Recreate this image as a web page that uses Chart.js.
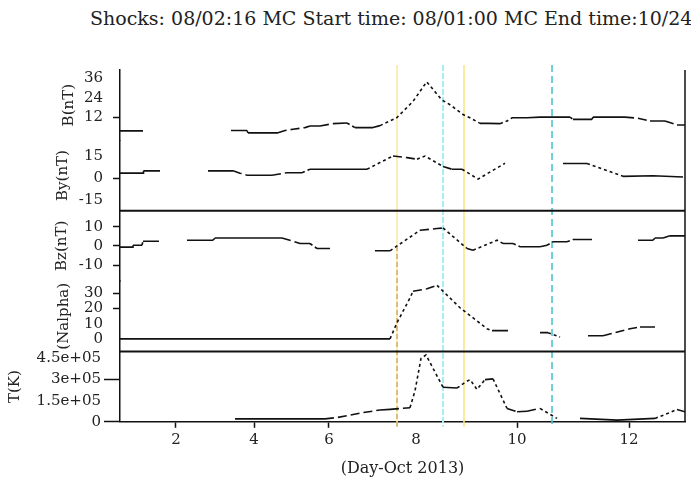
<!DOCTYPE html>
<html>
<head>
<meta charset="utf-8">
<script src="https://cdn.jsdelivr.net/npm/chart.js@4.4.1/dist/chart.umd.min.js"></script>
<style>
  body { margin: 0; background: #fff; }
  #wrap { position: relative; width: 691px; height: 483px; overflow: hidden; }
  #title {
    position: absolute; left: 90px; top: 9px;
    font: 19px/19px "DejaVu Serif", serif; color: #222; white-space: nowrap;
  }
  #chart { position: absolute; left: 0; top: 0; }
</style>
</head>
<body>
<div id="wrap">
  <div id="title">Shocks: 08/02:16 MC Start time: 08/01:00 MC End time:10/24</div>
  <canvas id="chart" width="691" height="483"></canvas>
</div>
<script>
// ------------------------------------------
// Data (day of Oct 2013, value); null = data gap
// ------------------------------------------
const dayTicks = [2, 4, 6, 8, 10, 12];

const bDay = [0.564, 1.154, null, 3.410, 3.821, 3.846, 4.640, 4.827, 5.040, 5.360, 5.493, 5.760, 6.092, 6.414, 6.598, 7.011, 7.172, 7.556, 7.931, 8.212, 8.509, 8.673, 8.931, 9.069, 9.267, 9.426, 9.663, 9.802, 9.901, 10.179, 10.411, 10.946, 11.000, 11.339, 11.357, 11.929, 12.143, 12.375, 12.643, 12.857, 13.0];
const bVal = [3.8, 3.8, null, 4.0, 4.0, 2.6, 2.6, 4.0, 4.8, 5.8, 6.8, 6.8, 8.2, 8.6, 5.8, 5.8, 7.0, 11.8, 21.8, 33.8, 22.8, 19.8, 13.8, 11.8, 8.4, 8.4, 8.2, 9.8, 11.8, 11.8, 12.2, 12.2, 10.8, 10.8, 12.2, 12.2, 11.6, 9.8, 9.8, 7.4, 7.4];

const byDay = [0.564, 1.154, 1.167, 1.590, null, 2.821, 3.462, 3.641, 3.821, 4.480, 4.880, 5.280, 5.493, 6.874, 7.172, 7.471, 7.793, 8.020, 8.178, 8.535, 8.713, 8.911, 9.010, 9.228, 9.762, null, 10.821, 11.250, 11.893, 12.429, 12.964];
const byVal = [3.4, 3.4, 5.0, 5.0, null, 5.0, 5.0, 3.4, 2.0, 2.0, 3.7, 3.7, 6.1, 6.1, 10.7, 15.2, 14.1, 13.0, 15.2, 8.0, 6.1, 6.1, 4.0, -0.7, 10.2, null, 10.0, 10.0, 1.2, 1.6, 0.7];

const bzDay = [0.564, 0.872, 0.897, 1.128, 1.154, 1.564, null, 2.282, 2.949, 3.000, 4.747, 5.040, 5.227, 5.493, 5.680, 6.023, null, 7.057, 7.402, 8.079, 8.416, 8.535, 9.010, 9.129, 9.604, 9.723, 9.921, 10.054, 10.411, 10.536, 10.643, 10.893, 11.000, 11.339, null, 12.161, 12.429, 12.464, 12.607, 12.732, 13.0];
const bzVal = [-0.6, -0.6, 0.4, 0.4, 2.5, 2.5, null, 3.0, 3.0, 4.2, 4.2, 2.5, 1.3, 1.3, -1.3, -1.3, null, -2.5, -2.5, 8.2, 9.1, 9.4, -1.3, -2.2, 3.0, 1.3, 1.3, -0.4, -0.4, 0.4, 2.2, 2.2, 3.4, 3.4, null, 3.0, 3.0, 4.2, 4.2, 5.3, 5.3];

const nDay = [0.564, 7.402, 7.563, 7.862, 7.931, 8.218, 8.416, 8.871, 9.406, 9.505, 9.822, null, 10.411, 10.554, 10.768, null, 11.268, 11.536, 12.018, 12.196, 12.464];
const nVal = [0, 0, 10.6, 27, 31.4, 33, 35.3, 20.5, 6.7, 5.4, 5.4, null, 4.1, 4.1, 1.3, null, 2.0, 2.0, 6.7, 7.8, 7.8];

const tDay = [3.513, 5.627, 5.893, 6.184, 6.483, 6.759, 7.172, 7.402, 7.862, 7.977, 8.099, 8.198, 8.535, 8.812, 8.970, 9.069, 9.208, 9.366, 9.525, 9.802, 10.000, 10.179, 10.411, 10.714, null, 11.125, 11.786, 12.464, 12.696, 12.857, 13.0];
const tVal = [2.1e4, 2.1e4, 2.1e4, 3.0e4, 4.8e4, 6.4e4, 8.4e4, 8.8e4, 1.0e5, 2.2e5, 4.5e5, 4.75e5, 2.45e5, 2.4e5, 2.8e5, 3.0e5, 2.3e5, 3.0e5, 3.05e5, 9.5e4, 7.1e4, 7.5e4, 9.5e4, 2.4e4, null, 2.4e4, 1.2e4, 2.4e4, 6.0e4, 8.8e4, 7.1e4];

// y tick values and their printed labels, per panel
const bTicks = [12, 24, 36];
const byTicks = [-15, 0, 15];
const bzTicks = [-10, 0, 10];
const nTicks = [0, 10, 20, 30];
const tTicks = [0, 1.5e5, 3e5, 4.5e5];
const tTickLabels = ['0', '1.5e+05', '3e+05', '4.5e+05'];

// ticks that carry a tick mark (the rest are label only)
const dayMarked = [2, 4, 6, 10, 12];
const bMarked = [12];
const byMarked = [0];
const bzMarked = [-10, 0, 10];
const nMarked = [20, 30];
const tMarked = [0, 3e5];

// shock / MC boundary times
const markerDays = [7.563, 8.535, 8.950, 10.625];

// -----------------------------
// Time axis: uneven day spacing, piecewise linear between knots
// -----------------------------
const knotDays = [0.564, 2, 4, 6, 8, 10, 12, 13];
const knotFrac = [0, 0.0991, 0.2372, 0.3699, 0.5239, 0.7027, 0.9009, 1];

function interp(v, xs, ys) {
    let i = 1;
    while (i < xs.length - 1 && v > xs[i]) i++;
    const f = (v - xs[i - 1]) / (xs[i] - xs[i - 1]);
    return ys[i - 1] + f * (ys[i] - ys[i - 1]);
}

class KnotScale extends Chart.LinearScale {
  static id = 'knotted';
  static defaults = Chart.LinearScale.defaults;

  getPixelForValue(value) {
    if (value === null || isNaN(value)) return NaN;
    return this.getPixelForDecimal(interp(value, knotDays, knotFrac));
  }

  getValueForPixel(pixel) {
    return interp(this.getDecimalForPixel(pixel), knotFrac, knotDays);
  }
}
Chart.register(KnotScale);

// -----------------------------
// Helpers
// -----------------------------
const FONT = '"DejaVu Serif", serif';
const AXIS_WIDTH = 114;   // shared width of the stacked left axes
const INK = '#111';

function points(days, vals) {
    let last = days[0];
    return days.map((d, i) => {
        if (d !== null) last = d;
        return { x: last, y: vals[i] };
    });
}

// flat runs solid, sloped runs broken up like the sampled record
function dashFor(ctx) {
    const dx = Math.abs(ctx.p1.x - ctx.p0.x) || 1;
    const slope = Math.abs(ctx.p1.y - ctx.p0.y) / dx;
    if (slope < 0.06) return undefined;
    return slope < 0.35 ? [9, 4] : [3, 3];
}

function markColor(marked) {
    return ctx => (ctx.tick && marked.includes(ctx.tick.value)) ? INK : 'rgba(0,0,0,0)';
}

function series(days, vals, axis) {
    return {
        data: points(days, vals),
        yAxisID: axis,
        borderColor: INK,
        borderWidth: 1.6,
        pointRadius: 0,
        spanGaps: false,
        tension: 0,
        segment: { borderDash: dashFor }
    };
}

function panelAxis(title, min, max, ticks, labels, marked, titlePad, tickLen, tickPad) {
    return {
        type: 'linear',
        position: 'left',
        stack: 'panels',
        stackWeight: 1,
        min: min,
        max: max,
        afterBuildTicks: scale => { scale.ticks = ticks.map(v => ({ value: v })); },
        // five stacked axes would otherwise be squeezed to a fifth of half the width
        afterFit: scale => { scale.width = AXIS_WIDTH; },
        ticks: {
            autoSkip: false,
            color: '#222',
            padding: tickPad,
            font: { family: FONT, size: 15 },
            callback: (v, i) => labels[i]
        },
        grid: { drawOnChartArea: false, drawTicks: true, tickLength: tickLen, tickColor: markColor(marked), tickWidth: 1.5 },
        border: { display: true, color: INK, width: 1.5 },
        title: {
            display: true,
            text: title,
            color: '#222',
            font: { family: FONT, size: 15 },
            padding: titlePad
        }
    };
}

function vline(ctx, x, y0, y1, color, width, dash) {
    ctx.beginPath();
    ctx.setLineDash(dash);
    ctx.strokeStyle = color;
    ctx.lineWidth = width;
    ctx.moveTo(x, y0);
    ctx.lineTo(x, y1);
    ctx.stroke();
}

// -----------------------------
// Boundary markers, panel rules, right frame
// -----------------------------
const panelFrame = {
    id: 'panelFrame',
    beforeDatasetsDraw(chart) {
        const { ctx, chartArea: a, scales } = chart;
        const top = a.top - 5, bottom = a.bottom + 5;
        const px = markerDays.map(d => scales.x.getPixelForValue(d));
        ctx.save();
        vline(ctx, px[0], top, bottom, '#fde8a4', 1.6, []);
        vline(ctx, px[1], top, bottom, '#a6edf7', 2, [6, 2]);
        vline(ctx, px[2], top, bottom, '#fde68a', 1.6, []);
        vline(ctx, px[3], top, bottom, '#4cc4ce', 1.6, [7, 4]);
        // shock line turns darker through the lower panels
        const midBz = (scales.yBz.top + scales.yBz.bottom) / 2;
        vline(ctx, px[0], midBz, bottom, '#d3b26a', 1.6, [5, 3]);
        ctx.restore();
    },
    afterDraw(chart) {
        const { ctx, chartArea: a, scales } = chart;
        ctx.save();
        ctx.setLineDash([]);
        ctx.strokeStyle = INK;
        ctx.lineWidth = 2;
        [scales.yBy.bottom, scales.yN.bottom].forEach(y => {
            ctx.beginPath();
            ctx.moveTo(a.left, y);
            ctx.lineTo(a.right, y);
            ctx.stroke();
        });
        ctx.lineWidth = 1.5;
        ctx.beginPath();
        ctx.moveTo(a.right, a.top);
        ctx.lineTo(a.right, a.bottom);
        ctx.stroke();
        ctx.restore();
    }
};

// -----------------------------
// Chart
// -----------------------------
new Chart(document.getElementById('chart'), {
    type: 'line',
    data: {
        datasets: [
            series(bDay, bVal, 'yB'),
            series(byDay, byVal, 'yBy'),
            series(bzDay, bzVal, 'yBz'),
            series(nDay, nVal, 'yN'),
            series(tDay, tVal, 'yT')
        ]
    },
    options: {
        responsive: false,
        animation: false,
        devicePixelRatio: 1,
        layout: { padding: { top: 70, right: 6, bottom: 5, left: 6 } },
        plugins: { legend: { display: false }, tooltip: { enabled: false } },
        scales: {
            x: {
                type: 'knotted',
                position: 'bottom',
                min: knotDays[0],
                max: knotDays[knotDays.length - 1],
                afterBuildTicks: scale => { scale.ticks = dayTicks.map(v => ({ value: v })); },
                ticks: { color: '#222', padding: 3, font: { family: FONT, size: 15 } },
                grid: { drawOnChartArea: false, drawTicks: true, tickLength: 6, tickColor: markColor(dayMarked), tickWidth: 1.5 },
                border: { display: true, color: INK, width: 1.5 },
                title: {
                    display: true,
                    text: '(Day-Oct 2013)',
                    color: '#222',
                    font: { family: FONT, size: 16 },
                    padding: { top: 7, bottom: 0 }
                }
            },
            // panels listed bottom to top
            yT: panelAxis('T(K)', 0, 5e5, tTicks, tTickLabels, tMarked, { top: 0, bottom: 13 }, 16, 3),
            yN: panelAxis('(Nalpha)', -8.3, 38.1, nTicks, nTicks.map(String), nMarked, { top: 49, bottom: 0 }, 7, 10),
            yBz: panelAxis('Bz(nT)', -18.3, 18.4, bzTicks, bzTicks.map(String), bzMarked, { top: 47, bottom: 0 }, 7, 10),
            yBy: panelAxis('By(nT)', -22.5, 26, byTicks, byTicks.map(String), byMarked, { top: 48, bottom: 0 }, 7, 10),
            yB: panelAxis('B(nT)', -2, 41, bTicks, bTicks.map(String), bMarked, { top: 54, bottom: 0 }, 7, 10)
        }
    },
    plugins: [panelFrame]
});
</script>
</body>
</html>
